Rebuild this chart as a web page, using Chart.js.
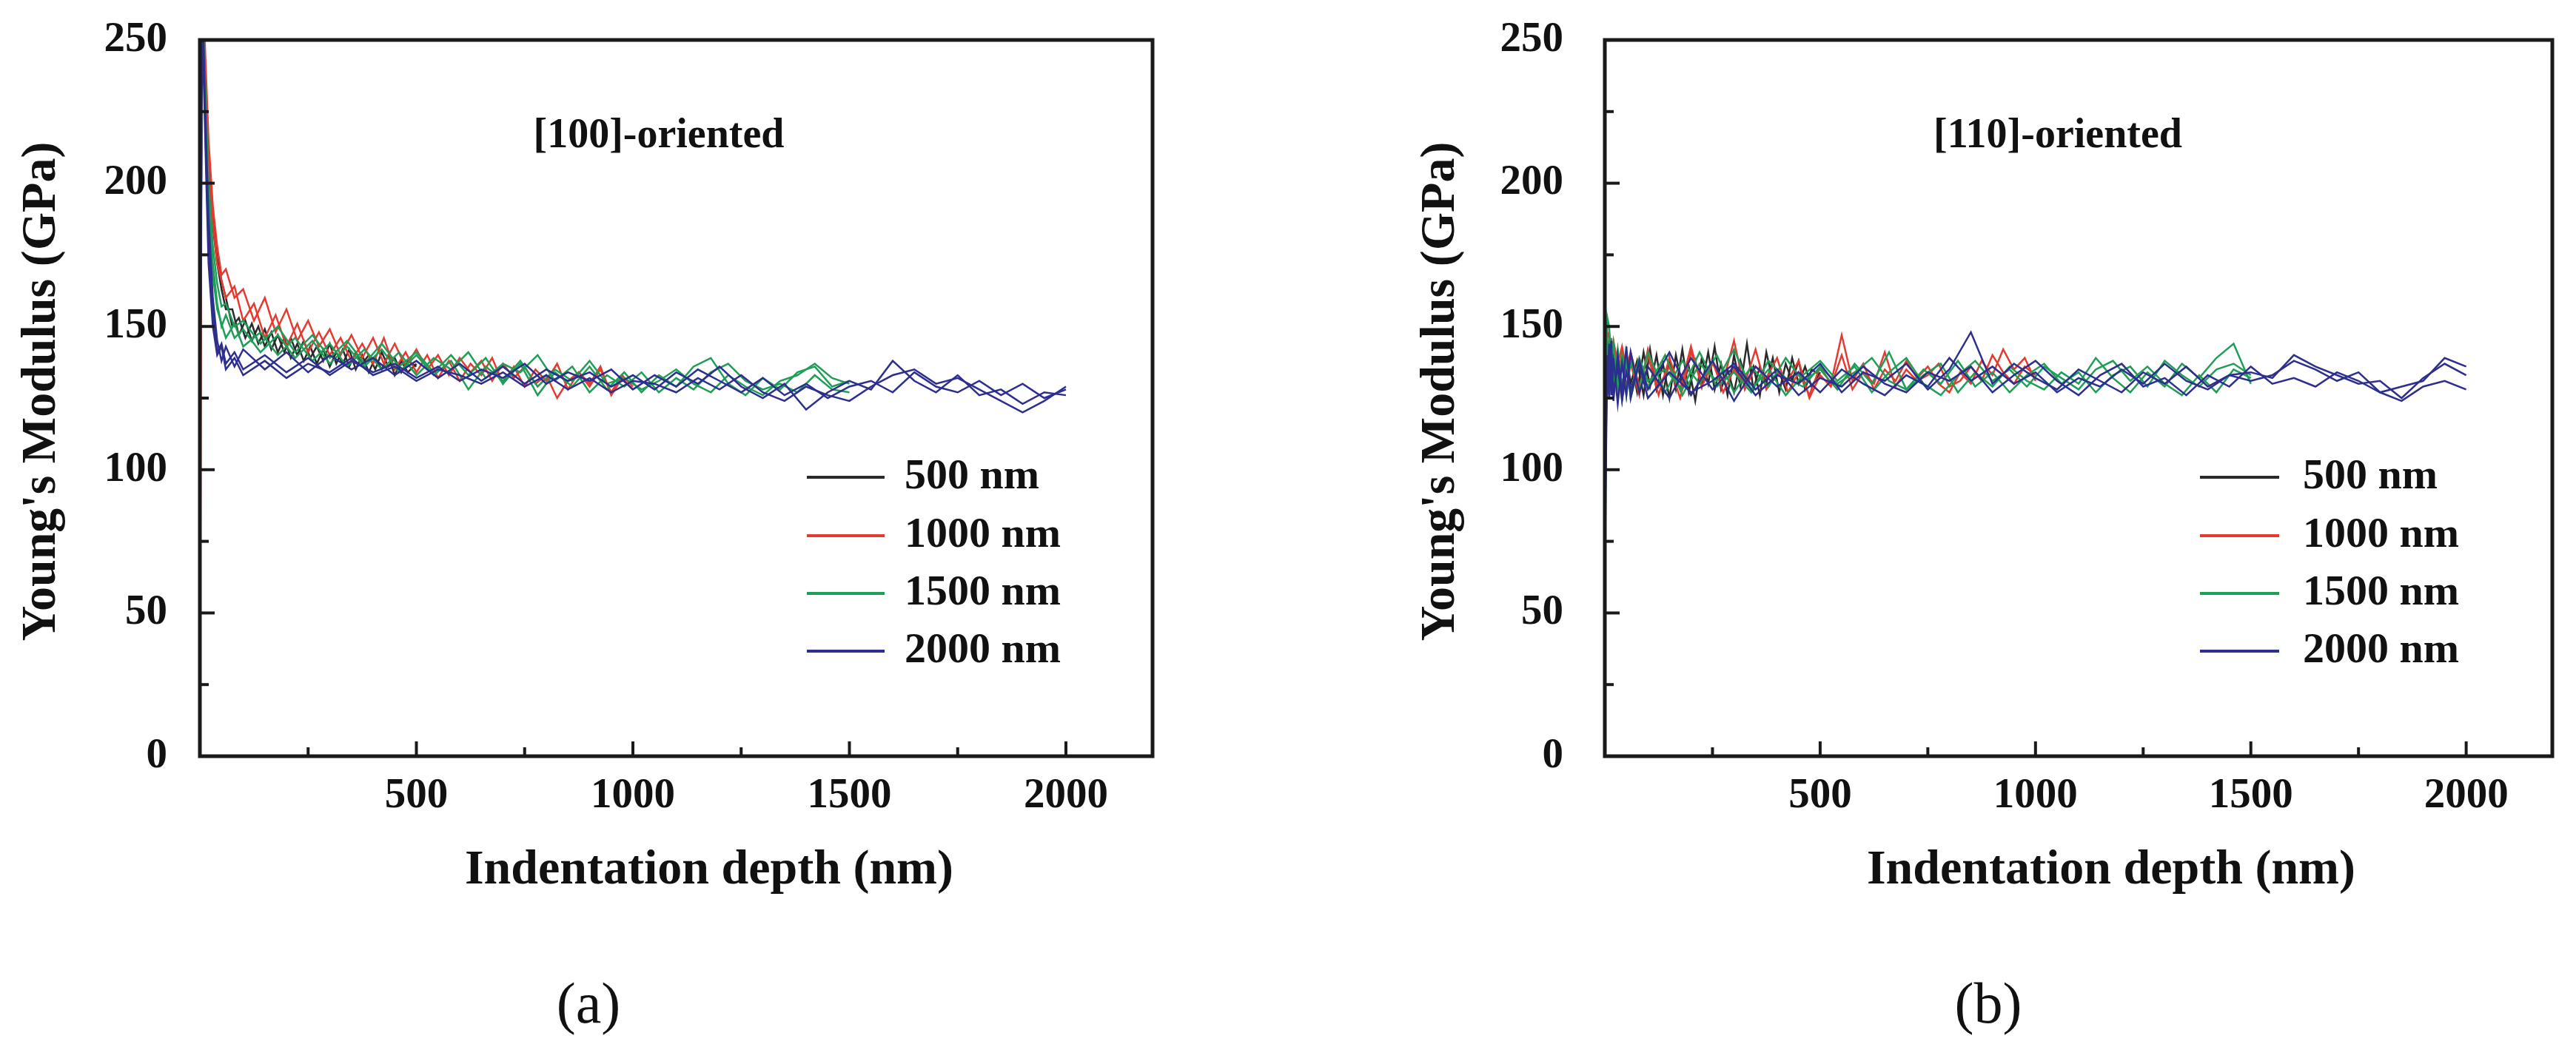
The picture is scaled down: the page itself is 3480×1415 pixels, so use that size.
<!DOCTYPE html>
<html>
<head>
<meta charset="utf-8">
<title>Young's Modulus vs indentation depth</title>
<script src="https://cdn.jsdelivr.net/npm/chart.js@4.4.0/dist/chart.umd.min.js"></script>
<style>
  body { margin: 0; background: #fff; width: 3480px; height: 1415px; overflow: hidden; }
  canvas { position: absolute; top: 0; }
  #chartA { left: 0; }
  #chartB { left: 1740px; }
</style>
</head>
<body>
<canvas id="chartA" width="1740" height="1415"></canvas>
<canvas id="chartB" width="1740" height="1415"></canvas>
<script>
// ---- data ----
var seriesLabels = ['500 nm', '1000 nm', '1500 nm', '2000 nm'];
var seriesColors = ['#2a2a2a', '#e53a2f', '#1f9e58', '#2d2f8e'];

var xTickValues = [500, 1000, 1500, 2000];
var xMinorTicks = [250, 750, 1250, 1750];
var yTickValues = [0, 50, 100, 150, 200, 250];
var yMinorTicks = [25, 75, 125, 175, 225];

var depth500 = [0,2,4,6,10,15,20,30,40,50,60,75,90,105,120,135,150,165,180,195,210,225,240,255,270,285,300,315,330,345,360,375,390,405,420,435,450,465,480,500];
var depth1000 = [0,2,4,6,10,15,20,30,40,50,60,80,100,125,150,175,200,225,250,275,300,325,350,375,400,425,450,475,500,525,550,575,600,625,650,675,700,725,750,775,800,825,850,875,900,925,950,975,1000];
var depth1500 = [0,2,4,6,10,15,20,30,40,50,60,80,100,140,180,220,260,300,340,380,420,460,500,540,580,620,660,700,740,780,820,860,900,940,980,1020,1060,1100,1140,1180,1220,1260,1300,1340,1380,1420,1460,1500];
var depth2000 = [0,2,4,6,10,15,20,30,40,50,60,80,100,150,200,250,300,350,400,450,500,550,600,650,700,750,800,850,900,950,1000,1050,1100,1150,1200,1250,1300,1350,1400,1450,1500,1550,1600,1650,1700,1750,1800,1850,1900,1950,2000];

// (a) [100]-oriented
var a500_1 = [160,210,250,265,250,228,210,188,174,166,160,150,153,146,151,144,149,142,147,141,146,140,145,139,143,138,144,137,142,136,141,137,140,135,141,136,139,134,138,136];
var a500_2 = [150,200,240,262,248,225,205,185,172,163,156,156,147,152,145,150,143,148,141,146,139,144,138,143,137,142,136,141,137,142,135,140,134,139,135,140,133,138,134,137];
var a1000_1 = [0,120,220,265,255,235,215,192,178,168,170,160,163,152,160,148,156,145,152,143,149,140,147,139,146,137,144,136,142,135,140,133,139,134,138,131,137,132,136,130,133,125,131,134,129,135,127,133,129];
var a1000_2 = [30,150,230,260,250,228,208,186,172,166,160,164,152,158,146,154,143,151,141,148,140,146,138,144,137,146,135,141,134,140,132,138,131,137,133,139,130,136,129,135,131,137,128,134,130,136,126,132,128];
var a1500_1 = [140,190,240,262,245,222,200,178,165,157,158,150,152,144,150,141,147,139,145,137,144,136,141,134,140,133,139,130,137,126,134,129,136,128,134,127,133,129,136,139,130,126,132,128,134,136,129,131];
var a1500_2 = [120,170,225,255,240,215,195,172,158,150,154,146,149,141,147,139,145,137,143,136,142,134,140,133,138,128,136,131,138,129,135,131,138,130,132,128,131,135,130,127,133,129,126,131,133,137,132,130];
var a1500_3 = [140,185,232,258,238,212,190,168,156,151,146,151,143,148,140,146,138,144,136,142,135,141,133,139,135,141,132,137,134,140,131,136,127,133,129,134,127,132,128,134,137,131,128,130,127,133,128,127];
var a2000_1 = [120,175,235,262,240,212,188,160,145,138,143,136,142,135,141,134,140,135,139,133,138,132,137,131,136,130,135,131,134,129,133,128,134,130,136,129,125,130,121,127,131,128,138,131,127,133,126,128,123,127,126];
var a2000_2 = [150,205,250,265,235,205,180,155,141,144,137,141,135,140,134,139,133,138,134,137,132,136,131,135,132,137,130,134,131,135,128,133,129,135,131,127,132,126,130,125,129,131,127,134,129,127,131,126,130,125,128];
var a2000_3 = [100,160,220,255,230,200,172,150,140,143,135,139,133,138,132,137,134,139,133,136,131,135,133,130,134,129,133,128,132,127,131,130,127,132,128,133,127,124,129,126,124,129,133,135,130,132,128,124,120,124,129];

// (b) [110]-oriented
var b500_1 = [60,110,135,142,138,130,141,127,140,128,139,127,141,129,140,126,139,128,142,127,138,129,141,128,137,126,140,129,144,128,136,130,139,127,137,131,138,128,135,133];
var b500_2 = [90,125,146,135,128,143,126,139,125,141,130,138,126,142,128,137,125,140,129,136,124,139,130,143,128,135,127,138,130,136,126,141,131,134,128,139,130,136,129,134];
var b1000_1 = [80,130,150,146,148,140,145,137,143,135,141,129,140,126,139,128,143,129,137,131,145,128,136,132,139,127,134,126,136,130,147,131,137,128,135,131,138,132,136,130,127,134,130,138,133,142,135,139,131];
var b1000_2 = [100,140,147,142,145,138,143,132,141,128,137,126,142,129,136,125,141,131,138,127,135,130,142,128,134,131,138,125,133,129,140,128,134,130,141,129,135,131,133,137,129,131,136,131,140,134,130,136,133];
var b1500_1 = [40,100,140,153,150,138,144,128,140,126,138,128,141,127,138,130,140,127,136,129,139,131,135,128,137,130,141,128,133,137,127,134,129,136,131,128,134,130,139,132,127,134,129,137,132,139,144,130];
var b1500_2 = [60,120,148,145,135,146,131,142,127,139,125,137,129,140,126,137,131,142,128,135,126,133,138,131,136,127,134,139,130,126,133,138,131,135,129,136,132,128,135,138,131,136,130,126,133,127,135,132];
var b1500_3 = [80,130,151,140,133,141,128,138,130,136,127,139,131,135,128,141,129,134,127,138,132,129,136,130,134,139,131,128,135,130,138,129,134,127,133,137,130,134,127,133,136,129,138,133,129,135,137,133];
var b2000_1 = [70,105,125,140,132,145,124,140,127,143,125,138,128,141,126,138,124,136,129,134,127,135,130,126,133,129,139,131,136,130,134,127,132,129,135,130,137,131,128,133,131,133,138,135,131,134,127,129,131,139,136];
var b2000_2 = [90,120,138,128,144,126,139,123,137,126,141,127,136,125,139,128,136,126,133,130,137,127,134,131,137,128,135,148,130,137,132,128,135,131,127,134,130,136,129,133,134,132,140,136,133,130,131,125,132,137,133];
var b2000_3 = [60,95,118,135,125,138,127,136,124,134,128,137,125,134,127,131,137,128,135,126,132,129,136,130,127,134,131,136,127,133,138,131,126,133,137,129,132,126,133,129,136,130,132,129,134,131,127,124,129,131,128];

var FONT = "'Liberation Serif', 'Times New Roman', serif";

function pairs(xs, ys) {
  return xs.map(function (x, i) { return { x: x, y: ys[i] }; });
}

function curve(series, xs, ys) {
  return {
    label: seriesLabels[series],
    data: pairs(xs, ys),
    borderColor: seriesColors[series],
    borderWidth: 2.5,
    pointRadius: 0,
    fill: false,
    tension: 0
  };
}

// frame, inward ticks, annotation, legend, axis titles, panel letter
var decorPlugin = {
  id: 'decor',
  afterDraw: function (chart, args, opts) {
    var ctx = chart.ctx;
    var area = chart.chartArea;
    var xs = chart.scales.x, ys = chart.scales.y;

    ctx.save();
    ctx.strokeStyle = '#1a1a1a';
    ctx.lineCap = 'butt';
    ctx.lineWidth = 4;
    function seg(x0, y0, x1, y1) {
      ctx.beginPath(); ctx.moveTo(x0, y0); ctx.lineTo(x1, y1); ctx.stroke();
    }
    xTickValues.forEach(function (v) { var p = xs.getPixelForValue(v); seg(p, area.bottom, p, area.bottom - 20); });
    xMinorTicks.forEach(function (v) { var p = xs.getPixelForValue(v); seg(p, area.bottom, p, area.bottom - 12); });
    yTickValues.forEach(function (v) { var p = ys.getPixelForValue(v); seg(area.left, p, area.left + 20, p); });
    yMinorTicks.forEach(function (v) { var p = ys.getPixelForValue(v); seg(area.left, p, area.left + 12, p); });

    ctx.lineWidth = 5;
    ctx.strokeRect(area.left, area.top, area.right - area.left, area.bottom - area.top);

    ctx.fillStyle = '#111';
    ctx.textBaseline = 'alphabetic';

    // orientation annotation
    ctx.font = 'bold 56px ' + FONT;
    ctx.textAlign = 'center';
    ctx.fillText(opts.title, opts.titleX, 199);

    // legend
    ctx.font = 'bold 58px ' + FONT;
    ctx.textAlign = 'left';
    var rows = [645, 724, 802, 880];
    seriesLabels.forEach(function (lab, i) {
      ctx.strokeStyle = seriesColors[i];
      ctx.lineWidth = 4;
      seg(opts.legendX0, rows[i], opts.legendX1, rows[i]);
      ctx.fillText(lab, opts.legendTextX, rows[i] + 15);
    });

    // axis titles
    ctx.font = 'bold 66px ' + FONT;
    ctx.textAlign = 'center';
    ctx.fillText('Indentation depth (nm)', opts.xTitleX, 1194);
    ctx.save();
    ctx.translate(opts.yTitleX, 529);
    ctx.rotate(-Math.PI / 2);
    ctx.fillText("Young's Modulus (GPa)", 0, 0);
    ctx.restore();

    // panel letter
    ctx.font = '78px ' + FONT;
    ctx.fillText(opts.panel, opts.panelX, 1382);
    ctx.restore();
  }
};

function makeChart(id, datasets, look) {
  return new Chart(document.getElementById(id), {
    type: 'line',
    data: { datasets: datasets },
    plugins: [decorPlugin],
    options: {
      responsive: false,
      devicePixelRatio: 1,
      animation: false,
      layout: { padding: { left: 0, right: look.padRight, top: 54, bottom: 0 } },
      plugins: {
        legend: { display: false },
        tooltip: { enabled: false },
        decor: look
      },
      scales: {
        x: {
          type: 'linear',
          min: 0,
          max: 2200,
          // tick marks are drawn inward by the plugin; tickLength only spaces the labels
          grid: { display: false, drawTicks: true, tickLength: 20 },
          border: { display: false },
          afterBuildTicks: function (s) { s.ticks = xTickValues.map(function (v) { return { value: v }; }); },
          afterFit: function (s) { s.height = 393; },
          ticks: {
            autoSkip: false,
            maxRotation: 0,
            padding: 0,
            color: '#111',
            font: { family: FONT, size: 57, weight: 'bold' },
            callback: function (v) { return String(v); }
          }
        },
        y: {
          min: 0,
          max: 250,
          grid: { display: false, drawTicks: true, tickLength: look.yTickPad },
          border: { display: false },
          afterBuildTicks: function (s) { s.ticks = yTickValues.map(function (v) { return { value: v }; }); },
          afterFit: function (s) { s.width = look.yWidth; },
          ticks: {
            autoSkip: false,
            padding: 0,
            color: '#111',
            font: { family: FONT, size: 57, weight: 'bold' },
            callback: function (v) { return String(v); }
          }
        }
      }
    }
  });
}

// blue first so it sits on top, as in the figure
makeChart('chartA', [
  curve(3, depth2000, a2000_1), curve(3, depth2000, a2000_2), curve(3, depth2000, a2000_3),
  curve(2, depth1500, a1500_1), curve(2, depth1500, a1500_2), curve(2, depth1500, a1500_3),
  curve(1, depth1000, a1000_1), curve(1, depth1000, a1000_2),
  curve(0, depth500, a500_1), curve(0, depth500, a500_2)
], {
  title: '[100]-oriented', panel: '(a)',
  padRight: 183, yWidth: 270, yTickPad: 44,
  titleX: 890, xTitleX: 958, yTitleX: 74, panelX: 795,
  legendX0: 1090, legendX1: 1195, legendTextX: 1222
});

makeChart('chartB', [
  curve(3, depth2000, b2000_1), curve(3, depth2000, b2000_2), curve(3, depth2000, b2000_3),
  curve(2, depth1500, b1500_1), curve(2, depth1500, b1500_2), curve(2, depth1500, b1500_3),
  curve(1, depth1000, b1000_1), curve(1, depth1000, b1000_2),
  curve(0, depth500, b500_1), curve(0, depth500, b500_2)
], {
  title: '[110]-oriented', panel: '(b)',
  padRight: 32, yWidth: 428, yTickPad: 56,
  titleX: 1040, xTitleX: 1112, yTitleX: 224, panelX: 946,
  legendX0: 1232, legendX1: 1339, legendTextX: 1371
});
</script>
</body>
</html>
